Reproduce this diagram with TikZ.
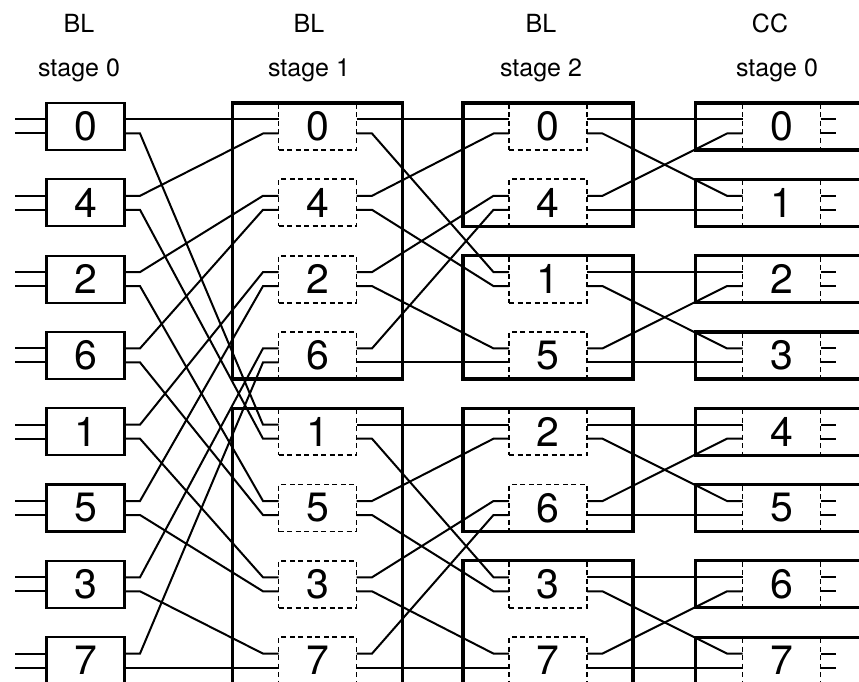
\documentclass[tikz,border=0pt]{standalone}
\usepackage{fontspec}
\setmainfont{TeX Gyre Heros}
\usetikzlibrary{calc,fit}
\begin{document}
\begin{tikzpicture}[x=1pt,y=-1pt,
  wire/.style={line width=2pt},
  cell/.style={rectangle, minimum width=78pt, minimum height=47pt, inner sep=0pt, outer sep=0pt,
    font=\fontsize{41}{41}\selectfont},
  plaincell/.style={cell, draw, line width=2.2pt},
  dashcell/.style={cell, draw, line width=1.9pt, dash pattern=on 5pt off 3.5pt},
  group/.style={draw, line width=3.2pt, inner xsep=46pt, inner ysep=0pt, outer sep=0pt},
  grouplines/.style={line width=3.2pt},
  head/.style={font=\fontsize{25}{25}\selectfont, anchor=base},
]
\clip (0,0) rectangle (859,682);

% column headings
\node[head] (h0a) at (79,33) {BL};  \node[head] (h0b) at (79,77) {stage 0};
\node[head] (h1a) at (309,33) {BL}; \node[head] (h1b) at (309,77) {stage 1};
\node[head] (h2a) at (541,33) {BL}; \node[head] (h2b) at (541,77) {stage 2};
\node[head] (h3a) at (770,33) {CC}; \node[head] (h3b) at (777,77) {stage 0};

% switch cells of the four columns
\foreach \lab [count=\i from 0] in {0,4,2,6,1,5,3,7}
  \node[plaincell] (a\i) at (85.5,{126.5+76.3*\i}) {\lab};
\foreach \lab [count=\i from 0] in {0,4,2,6,1,5,3,7}
  \node[dashcell] (b\i) at (317.5,{126.5+76.3*\i}) {\lab};
\foreach \lab [count=\i from 0] in {0,4,1,5,2,6,3,7}
  \node[dashcell] (c\i) at (548,{126.5+76.3*\i}) {\lab};
\foreach \lab [count=\i from 0] in {0,1,2,3,4,5,6,7}
  \node[dashcell] (d\i) at (781.5,{126.5+76.3*\i}) {\lab};

% port points on the cell edges and the ends of their stubs
\foreach \s in {a,b,c,d}
  \foreach \i in {0,...,7} {
    \coordinate (\s\i-it) at ($(\s\i.west)+(0,-7)$);
    \coordinate (\s\i-ib) at ($(\s\i.west)+(0,7)$);
    \coordinate (\s\i-ot) at ($(\s\i.east)+(0,-7)$);
    \coordinate (\s\i-ob) at ($(\s\i.east)+(0,7)$);
    \coordinate (\s\i-it-x) at ($(\s\i.west)+(-15.5,-7)$);
    \coordinate (\s\i-ib-x) at ($(\s\i.west)+(-15.5,7)$);
    \coordinate (\s\i-ot-x) at ($(\s\i.east)+(15.5,-7)$);
    \coordinate (\s\i-ob-x) at ($(\s\i.east)+(15.5,7)$);
  }

% inputs of the first column and outputs of the last one
\foreach \i in {0,...,7} {
  \coordinate (in\i-t) at ($(a\i.west)+(-31.5,-7)$);
  \coordinate (in\i-b) at ($(a\i.west)+(-31.5,7)$);
  \draw[wire] (in\i-t) -- (a\i-it);
  \draw[wire] (in\i-b) -- (a\i-ib);
  \draw[wire] (d\i-ot) -- (d\i-ot-x);
  \draw[wire] (d\i-ob) -- (d\i-ob-x);
}

% interconnections
\foreach \p/\q in {a0-ot/b0-it, a0-ob/b4-it, a1-ot/b0-ib, a1-ob/b4-ib,
                   a2-ot/b1-it, a2-ob/b5-it, a3-ot/b1-ib, a3-ob/b5-ib,
                   a4-ot/b2-it, a4-ob/b6-it, a5-ot/b2-ib, a5-ob/b6-ib,
                   a6-ot/b3-it, a6-ob/b7-it, a7-ot/b3-ib, a7-ob/b7-ib,
                   b0-ot/c0-it, b0-ob/c2-it, b1-ot/c0-ib, b1-ob/c2-ib,
                   b2-ot/c1-it, b2-ob/c3-it, b3-ot/c1-ib, b3-ob/c3-ib,
                   b4-ot/c4-it, b4-ob/c6-it, b5-ot/c4-ib, b5-ob/c6-ib,
                   b6-ot/c5-it, b6-ob/c7-it, b7-ot/c5-ib, b7-ob/c7-ib,
                   c0-ot/d0-it, c0-ob/d1-it, c1-ot/d0-ib, c1-ob/d1-ib,
                   c2-ot/d2-it, c2-ob/d3-it, c3-ot/d2-ib, c3-ob/d3-ib,
                   c4-ot/d4-it, c4-ob/d5-it, c5-ot/d4-ib, c5-ob/d5-ib,
                   c6-ot/d6-it, c6-ob/d7-it, c7-ot/d6-ib, c7-ob/d7-ib}
  \draw[wire] (\p) -- (\p-x) -- (\q-x) -- (\q);

% enclosing blocks
\node[group, fit=(b0)(b3)] (g1u) {};
\node[group, fit=(b4)(b7)] (g1l) {};
\node[group, fit=(c0)(c1)] (g2a) {};
\node[group, fit=(c2)(c3)] (g2b) {};
\node[group, fit=(c4)(c5)] (g2c) {};
\node[group, fit=(c6)(c7)] (g2d) {};
\foreach \i in {0,...,7}
  \draw[grouplines] ($(d\i.north west)+(200,0)$) -- ($(d\i.north west)+(-47,0)$)
    -- ($(d\i.south west)+(-47,0)$) -- ($(d\i.south west)+(200,0)$);
\end{tikzpicture}
\end{document}
